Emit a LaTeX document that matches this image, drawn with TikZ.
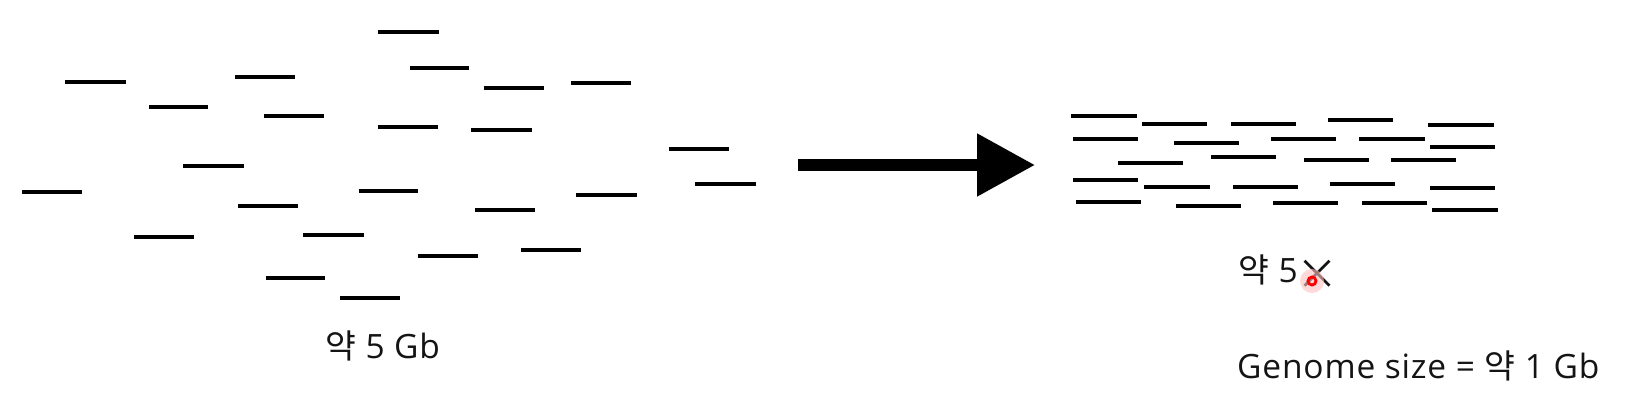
\documentclass[tikz,border=0pt]{standalone}
\usepackage{fontspec}
\setmainfont[LetterSpace=2.5]{Open Sans}
\newfontfamily\kr{Noto Sans CJK KR}
\usetikzlibrary{arrows.meta}
\tikzset{
  seg/.style={line width=4pt, black},
  bigarrow/.style={line width=11.7pt, -{Triangle[length=58pt,width=60pt]}},
  lbl/.style={anchor=base west, inner sep=0pt, font=\fontsize{33.5}{33.5}\selectfont, text=black!92},
}
\begin{document}
\begin{tikzpicture}[x=1pt,y=-1pt]
\useasboundingbox (0,0) rectangle (1636,414);
% left cluster of reads
\foreach \a/\b/\y in {378/439/32, 410/469/68, 65/126/82, 235/295/77, 484/544/88, 571/631/83,
  149/208/107, 264/324/116, 378/438/127, 471/532/130, 669/729/149, 183/244/166,
  22/82/192, 359/418/191, 576/637/195, 695/756/184, 238/298/206, 475/535/210,
  134/194/237, 303/364/235, 418/478/256, 521/581/250, 266/325/278, 340/400/298}
  \draw[seg] (\a,\y) -- (\b,\y);
% right cluster of reads
\foreach \a/\b/\y in {1071/1137/116, 1142/1207/124, 1231/1296/124, 1328/1393/120, 1428/1494/125,
  1073/1138/139, 1174/1239/143, 1271/1336/139, 1359/1425/139, 1430/1495/147,
  1118/1183/163, 1211/1276/157, 1304/1369/160, 1391/1456/160,
  1073/1138/180, 1144/1210/187, 1233/1298/187, 1330/1395/184, 1430/1495/188,
  1076/1141/202, 1176/1241/206, 1273/1338/203, 1362/1427/203, 1432/1498/210}
  \draw[seg] (\a,\y) -- (\b,\y);
% arrow
\coordinate (arrowtail) at (798,165);
\coordinate (arrowtip) at (1035,165);
\draw[bigarrow] (arrowtail) -- (arrowtip);
% labels
\node[lbl] (left) at (325,358) {{\kr 약} 5 Gb};
\node[lbl] (cov) at (1238,282) {{\kr 약} 5\kern-1pt\raisebox{-7pt}{\kr\fontsize{42}{42}\selectfont ×}};
\node[lbl] (genome) at (1237,378) {Genome size = {\kr 약} 1 Gb};
% cursor mark
\fill[red!25, opacity=0.6] (1312,281) circle (12);
\draw[red, line width=2.8pt] (1312,281) circle (4);
\end{tikzpicture}
\end{document}
